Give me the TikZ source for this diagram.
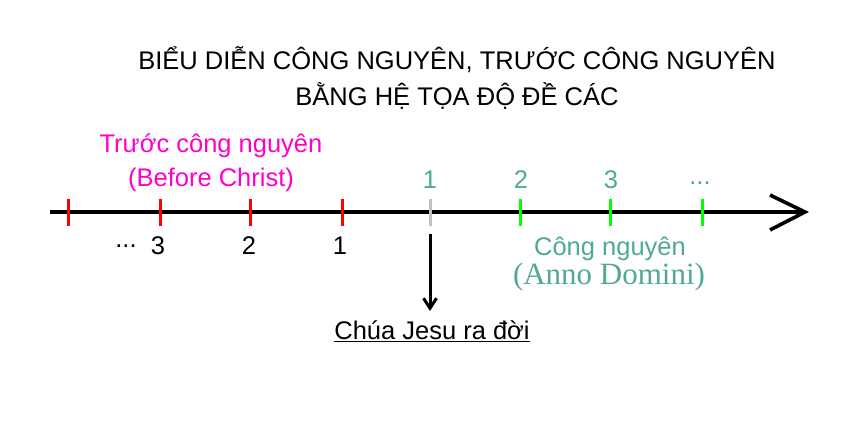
\documentclass[tikz,border=0pt]{standalone}
\usepackage{fontspec}
\setmainfont{Liberation Sans}
\newfontfamily\timesf{Liberation Serif}
\usetikzlibrary{arrows.meta}
\definecolor{bcred}{RGB}{255,0,0}
\definecolor{adgreen}{RGB}{0,255,0}
\definecolor{zerogrey}{RGB}{192,192,192}
\definecolor{tealtxt}{RGB}{80,168,150}
\definecolor{magtxt}{RGB}{255,0,204}
\tikzset{
  lbl/.style={inner sep=0pt, font=\fontsize{25.5}{28}\selectfont},
  tickbc/.style={draw=bcred, line width=3pt},
  tickad/.style={draw=adgreen, line width=3pt},
  tickzero/.style={draw=zerogrey, line width=3pt},
  axis/.style={line width=3.6pt},
}
\begin{document}
\begin{tikzpicture}[x=1pt,y=-1pt]
\useasboundingbox (0,0) rectangle (850,425);
% title
\node[lbl] (t1) at (457,60) {BIỂU DIỄN CÔNG NGUYÊN, TRƯỚC CÔNG NGUYÊN};
\node[lbl] (t2) at (457,96) {BẰNG HỆ TỌA ĐỘ ĐỀ CÁC};
% BC label
\node[lbl, text=magtxt] (bc1) at (211,146) {Trước công nguyên};
\node[lbl, text=magtxt] (bc2) at (211,180) {(Before Christ)};
% axis
\coordinate (axs) at (50,212);
\coordinate (axe) at (805,212);
\draw[axis] (axs) -- (axe);
\draw[axis, line join=miter] (770,195) -- (axe) -- (770,230);
% ticks
\foreach \x in {68,160,250,342} \draw[tickbc] (\x,199) -- (\x,226);
\draw[tickzero] (430,199) -- (430,226);
\foreach \x in {520,610,702} \draw[tickad] (\x,199) -- (\x,226);
% BC numbers
\node[lbl] (bcdots) at (126,246) {...};
\node[lbl] (bcn3) at (158,246) {3};
\node[lbl] (bcn2) at (249,246) {2};
\node[lbl] (bcn1) at (340,246) {1};
% AD numbers
\node[lbl, text=tealtxt] (adn1) at (430,180) {1};
\node[lbl, text=tealtxt] (adn2) at (521,180) {2};
\node[lbl, text=tealtxt] (adn3) at (611,180) {3};
\node[lbl, text=tealtxt] (addots) at (700,183) {...};
% AD label
\node[lbl, text=tealtxt] (ad1) at (610,249) {Công nguyên};
\node[inner sep=0pt, text=tealtxt, font=\timesf\fontsize{31}{34}\selectfont] (ad2) at (609,277) {(Anno Domini)};
% Jesus
\coordinate (zero) at (430,234);
\coordinate (tip) at (430,311);
\node[lbl] (jesus) at (432,331) {\underline{Chúa Jesu ra đời}};
\draw[line width=3pt, -{Straight Barb[length=10pt,width=13pt]}] (zero) -- (tip);
\end{tikzpicture}
\end{document}
